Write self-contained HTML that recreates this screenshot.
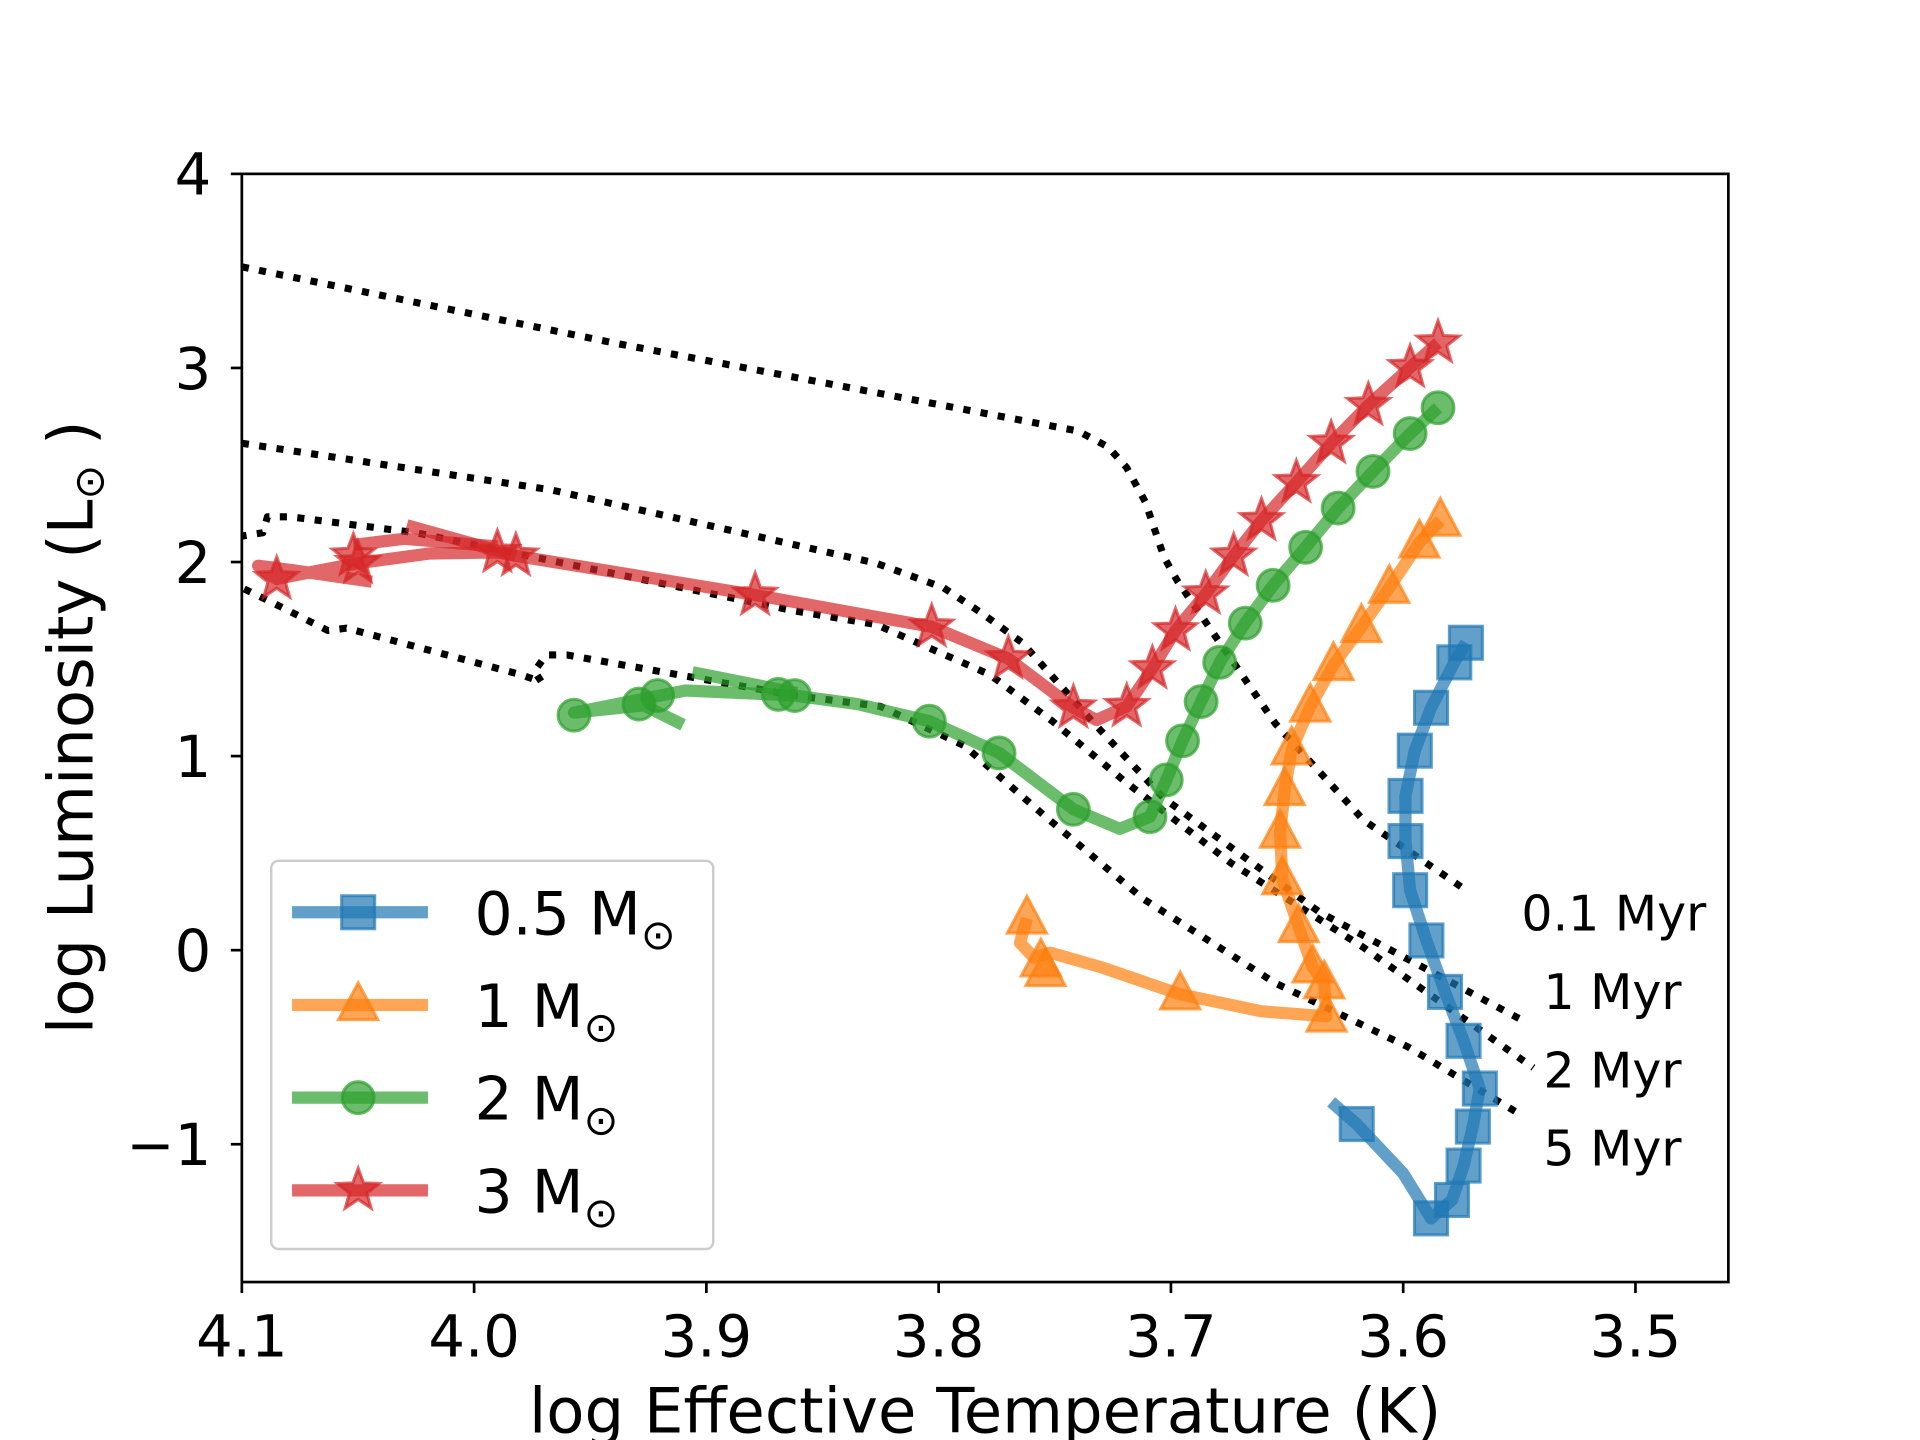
<!DOCTYPE html>
<html><head><meta charset="utf-8"><style>
html,body{margin:0;padding:0;background:#fff;}
svg{display:block;font-family:"DejaVu Sans","Liberation Sans",sans-serif;}
</style></head><body>
<svg id="chart" width="1920" height="1440" viewBox="0 0 1567 1176" xmlns="http://www.w3.org/2000/svg">
<rect x="0" y="0" width="1567" height="1176" fill="#fff"/>
<g id="plot"></g>
</svg>
<script>
// Axis domains
const xTicks = [4.1, 4.0, 3.9, 3.8, 3.7, 3.6, 3.5];
const xTickLabels = ["4.1", "4.0", "3.9", "3.8", "3.7", "3.6", "3.5"];
const yTicks = [4, 3, 2, 1, 0, -1];
const yTickLabels = ["4", "3", "2", "1", "0", "\u22121"];

// 0.5 Msun
const m05LineT = [3.631,3.620,3.600,3.588,3.579,3.574,3.570,3.567,3.574,3.582,3.590,3.597,3.599,3.599,3.595,3.588,3.578,3.573];
const m05LineL = [-0.782,-0.896,-1.150,-1.382,-1.287,-1.110,-0.909,-0.713,-0.467,-0.215,0.050,0.309,0.562,0.795,1.028,1.249,1.483,1.584];
const m05MarkT = [3.620,3.588,3.579,3.574,3.570,3.567,3.574,3.582,3.590,3.597,3.599,3.599,3.595,3.588,3.578,3.573];
const m05MarkL = [-0.896,-1.382,-1.287,-1.110,-0.909,-0.713,-0.467,-0.215,0.050,0.309,0.562,0.795,1.028,1.249,1.483,1.584];
// 1 Msun
const m1LineT = [3.762,3.765,3.759,3.752,3.730,3.696,3.661,3.633,3.634,3.639,3.645,3.652,3.653,3.651,3.648,3.640,3.630,3.618,3.606,3.593,3.584];
const m1LineL = [0.164,0.038,-0.038,-0.013,-0.088,-0.227,-0.315,-0.341,-0.170,-0.088,0.120,0.366,0.606,0.826,1.035,1.256,1.470,1.666,1.868,2.101,2.214];
const m1MarkT = [3.762,3.756,3.754,3.696,3.633,3.634,3.639,3.645,3.652,3.653,3.651,3.648,3.640,3.630,3.618,3.606,3.593,3.584];
const m1MarkL = [0.164,-0.057,-0.107,-0.227,-0.341,-0.170,-0.088,0.120,0.366,0.606,0.826,1.035,1.256,1.470,1.666,1.868,2.101,2.214];
// 2 Msun
const m2LineT = [3.910,3.927,3.957,3.925,3.909,3.862,3.835,3.804,3.774,3.742,3.722,3.709,3.702,3.695,3.687,3.679,3.668,3.656,3.642,3.628,3.613,3.597,3.585];
const m2LineL = [1.161,1.262,1.224,1.300,1.338,1.312,1.268,1.180,1.016,0.726,0.625,0.688,0.877,1.079,1.281,1.483,1.685,1.880,2.076,2.278,2.467,2.662,2.795];
const m2SpurT = [3.906,3.861];
const m2SpurL = [1.432,1.325];
const m2MarkT = [3.957,3.929,3.921,3.869,3.862,3.804,3.774,3.742,3.709,3.702,3.695,3.687,3.679,3.668,3.656,3.642,3.628,3.613,3.597,3.585];
const m2MarkL = [1.211,1.268,1.312,1.318,1.312,1.180,1.016,0.726,0.688,0.877,1.079,1.281,1.483,1.685,1.880,2.076,2.278,2.467,2.662,2.795];
// 3 Msun
const m3LineT = [4.044,4.077,4.093,4.085,4.067,4.050,4.019,3.990,3.982,3.879,3.803,3.770,3.742,3.732,3.719,3.708,3.698,3.685,3.673,3.661,3.646,3.631,3.615,3.597,3.585];
const m3LineL = [1.899,1.956,1.981,1.912,1.956,1.994,2.044,2.050,2.032,1.830,1.666,1.502,1.249,1.186,1.256,1.451,1.647,1.836,2.032,2.214,2.410,2.612,2.808,3.003,3.129];
const m3SpurT = [4.029,3.982];
const m3SpurL = [2.189,2.032];
const m3Spur2T = [4.052,4.030,3.990];
const m3Spur2L = [2.088,2.120,2.080];
const m3MarkT = [4.085,4.052,4.050,3.990,3.982,3.879,3.803,3.770,3.742,3.719,3.708,3.698,3.685,3.673,3.661,3.646,3.631,3.615,3.597,3.585];
const m3MarkL = [1.912,2.032,1.994,2.050,2.032,1.830,1.666,1.502,1.249,1.256,1.451,1.647,1.836,2.032,2.214,2.410,2.612,2.808,3.003,3.129];

// Isochrones
const iso01T = [4.100,3.940,3.740,3.727,3.719,3.711,3.703,3.697,3.676,3.655,3.617,3.573];
const iso01L = [3.521,3.129,2.675,2.593,2.486,2.309,2.025,1.899,1.533,1.167,0.669,0.309];
const iso1T = [4.100,3.967,3.827,3.798,3.782,3.764,3.733,3.703,3.636,3.550];
const iso1L = [2.612,2.372,1.994,1.868,1.741,1.584,1.167,0.782,0.196,-0.353];
const iso2T = [4.101,4.091,4.089,4.079,4.025,3.862,3.827,3.778,3.751,3.720,3.674,3.617,3.544];
const iso2L = [2.132,2.151,2.233,2.233,2.151,1.748,1.678,1.420,1.180,0.871,0.448,0.013,-0.606];
const iso5T = [4.099,4.089,4.063,4.055,3.980,3.971,3.974,3.969,3.960,3.862,3.825,3.789,3.754,3.712,3.655,3.598,3.548];
const iso5L = [1.861,1.804,1.647,1.659,1.420,1.382,1.438,1.521,1.521,1.312,1.256,1.054,0.688,0.265,-0.170,-0.498,-0.858];
const isoLabels = ["0.1 Myr", "1 Myr", "2 Myr", "5 Myr"];

const legendLabels = ["0.5 M", "1 M", "2 M", "3 M"];

const NS = "http://www.w3.org/2000/svg";
const X0 = 197, X1 = 1411, Y0 = 142, Y1 = 1047;
const xMin = 4.1, xMax = 3.46, yMin = -1.71, yMax = 4;
function sx(v){ return X0 + (xMin - v) / (xMin - xMax) * (X1 - X0); }
function sy(v){ return Y1 - (v - yMin) / (yMax - yMin) * (Y1 - Y0); }
const plot = document.getElementById('plot');
function mk(tag, attrs, parent){
  const e = document.createElementNS(NS, tag);
  for (const k in attrs) e.setAttribute(k, attrs[k]);
  (parent || plot).appendChild(e);
  return e;
}
function pts(T, L){ return T.map((t,i)=> sx(t).toFixed(1)+','+sy(L[i]).toFixed(1)).join(' '); }

const defs = mk('defs', {});
const cp = mk('clipPath', {id:'clipA'}, defs);
mk('rect', {x:X0, y:Y0, width:X1-X0, height:Y1-Y0}, cp);
const g = mk('g', {'clip-path':'url(#clipA)'});

const isoSets = [[iso01T, iso01L], [iso1T, iso1L], [iso2T, iso2L], [iso5T, iso5L]];
const isoNames = ['isochrone-0-1-myr', 'isochrone-1-myr', 'isochrone-2-myr', 'isochrone-5-myr'];
isoSets.forEach((s, i) => {
  const pl = mk('polyline', {points: pts(s[0], s[1]), fill:'none', stroke:'#000', 'stroke-width':5.8, 'stroke-dasharray':'5.8 8.5', 'stroke-linejoin':'round'}, g);
  
  
});

function markerShape(kind, cx, cy, color, parent){
  let e;
  if (kind === 's') {
    e = mk('rect', {x:cx-13.5, y:cy-13.5, width:27, height:27}, parent);
  } else if (kind === '^') {
    e = mk('polygon', {points: `${cx},${cy-18} ${cx-16},${cy+12} ${cx+16},${cy+12}`}, parent);
  } else if (kind === 'o') {
    e = mk('circle', {cx:cx, cy:cy, r:13}, parent);
  } else {
    let p = [];
    for (let k = 0; k < 10; k++) {
      const r = k % 2 ? 7.5 : 18;
      const a = -Math.PI/2 + k * Math.PI/5;
      p.push((cx + r*Math.cos(a)).toFixed(1) + ',' + (cy + r*Math.sin(a)).toFixed(1));
    }
    e = mk('polygon', {points: p.join(' ')}, parent);
  }
  e.setAttribute('fill', color);
  e.setAttribute('fill-opacity', 0.7);
  e.setAttribute('stroke', color);
  e.setAttribute('stroke-opacity', 0.7);
  e.setAttribute('stroke-width', 2.5);
  return e;
}

const tracks = [
  {name:'track-0-5-msun', color:'#1f77b4', kind:'s', lines:[[m05LineT, m05LineL]], mT:m05MarkT, mL:m05MarkL},
  {name:'track-1-msun', color:'#ff7f0e', kind:'^', lines:[[m1LineT, m1LineL]], mT:m1MarkT, mL:m1MarkL},
  {name:'track-2-msun', color:'#2ca02c', kind:'o', lines:[[m2LineT, m2LineL],[m2SpurT, m2SpurL]], mT:m2MarkT, mL:m2MarkL},
  {name:'track-3-msun', color:'#d62728', kind:'*', lines:[[m3LineT, m3LineL],[m3SpurT, m3SpurL],[m3Spur2T, m3Spur2L]], mT:m3MarkT, mL:m3MarkL}
];
tracks.forEach(tr => {
  const tg = mk('g', {}, g);
  
  
  tr.lines.forEach(l => {
    const pl = mk('polyline', {points: pts(l[0], l[1]), fill:'none', stroke:tr.color, 'stroke-opacity':0.7, 'stroke-width':10, 'stroke-linejoin':'round', 'stroke-linecap':'butt'}, tg);
    
    
  });
  tr.mT.forEach((t, i) => {
    const m = markerShape(tr.kind, sx(t), sy(tr.mL[i]), tr.color, tg);
    
    
  });
});

const frame = mk('rect', {x:X0, y:Y0, width:X1-X0, height:Y1-Y0, fill:'none', stroke:'#000', 'stroke-width':2.2});



xTicks.forEach((v, i) => {
  const x = sx(v);
  mk('line', {x1:x, y1:Y1, x2:x, y2:Y1+9, stroke:'#000', 'stroke-width':2.2});
  const t = mk('text', {x:x, y:1108, 'font-size':47, 'text-anchor':'middle', fill:'#000'});
  t.textContent = xTickLabels[i];
  
  
});
yTicks.forEach((v, i) => {
  const y = sy(v);
  mk('line', {x1:X0-9, y1:y, x2:X0, y2:y, stroke:'#000', 'stroke-width':2.2});
  const t = mk('text', {x:172, y:y+17, 'font-size':47, 'text-anchor':'end', fill:'#000'});
  t.textContent = yTickLabels[i];
  
  
});

const xt = mk('text', {x:804, y:1170, 'font-size':51, 'text-anchor':'middle', fill:'#000'});
xt.textContent = 'log Effective Temperature (K)';


const yt = mk('text', {x:0, y:0, 'font-size':51, 'text-anchor':'middle', fill:'#000', transform:'translate(75,594) rotate(-90)'});
yt.innerHTML = 'log Luminosity (L<tspan font-size="34" dy="9">\u2299</tspan><tspan dy="-9"> )</tspan>';



const isoLabX = [1242, 1260, 1260, 1260];
isoLabels.forEach((s, i) => {
  const t = mk('text', {x:isoLabX[i], y:760 + i*64, 'font-size':40, fill:'#000'});
  t.textContent = s;
  
  
});

const lg = mk('g', {});


mk('rect', {x:221, y:703, width:361, height:317, rx:6, fill:'#fff', 'fill-opacity':0.8, stroke:'#ccc', 'stroke-width':2}, lg);
tracks.forEach((tr, i) => {
  const y = 745 + i*75.7;
  const eg = mk('g', {}, lg);
  
  
  mk('line', {x1:238, y1:y, x2:349, y2:y, stroke:tr.color, 'stroke-opacity':0.7, 'stroke-width':10}, eg);
  markerShape(tr.kind, 292, y, tr.color, eg);
  const t = mk('text', {x:387, y:y+18, 'font-size':49, fill:'#000'}, eg);
  t.innerHTML = legendLabels[i] + '<tspan font-size="34" dy="12">\u2299</tspan>';
});
</script>
</body></html>
